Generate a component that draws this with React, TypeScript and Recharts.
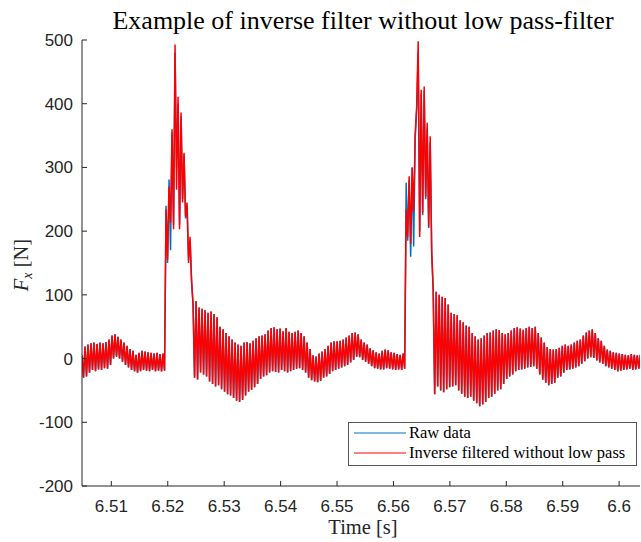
import { Line, LineChart, XAxis, YAxis } from "recharts";

// sampling grid of the force signal
const T0 = 6.5048;
const DT = 0.000266;

// Fx [N], inverse filtered (alternating crest / trough of the ringing)
const preImpact1 = [
  5, -30, 19, -28, 22, -22, 24, -18, 25, -20, 23, -17, 25, -18, 24, -15,
  26, -16, 30, -10, 36, 0, 38, 3, 34, 0, 30, -5, 25, -10, 20, -14,
  15, -18, 12, -20, 6, -22, 9, -20, 12, -18, 11, -19, 10, -20, 9, -18,
  8, -20, 9, -19, 7, -20, 8, -19,
];
const impact1 = [234, 155, 270, 213, 360, 203, 493, 265, 411, 203, 386, 245, 323, 223, 245, 150, 191, 124];
const ringing1 = [
  85, -30, 90, -33, 80, -22, 78, -25, 76, -28, 72, -36, 74, -40, 70, -44,
  65, -42, 50, -48, 46, -52, 40, -56, 35, -58, 30, -62, 25, -66, 22, -68,
  20, -65, 25, -58, 26, -52, 24, -49, 28, -45, 32, -40, 35, -32, 36, -28,
  38, -26, 44, -22, 48, -20, 49, -21, 46, -22, 47, -18, 43, -20, 48, -22,
  42, -20, 40, -18, 42, -16, 44, -15, 40, -18, 35, -22, 25, -30, 15, -34,
  5, -36, 3, -37, 8, -35, 11, -30, 15, -28, 20, -24, 25, -20, 27, -18,
  27, -16, 28, -14, 30, -12, 33, -10, 36, -6, 40, -2, 41, 3, 38, 2,
  30, -2, 25, -5, 22, -8, 16, -12, 13, -15, 10, -16, 8, -17, 12, -17,
  14, -15, 13, -16, 10, -17, 9, -18, 7, -17, 6, -18, 8, -16,
];
const impact2 = [234, 191, 286, 180, 300, 230, 352, 396, 498, 191, 422, 229, 427, 254, 370, 207, 349, 171];
const ringing2 = [
  108, -56, 105, -44, 100, -50, 97, -53, 95, -48, 85, -45, 72, -44, 70, -42,
  68, -50, 60, -55, 57, -60, 52, -62, 50, -60, 40, -66, 35, -70, 30, -75,
  32, -72, 36, -68, 40, -62, 41, -60, 44, -55, 46, -50, 45, -48, 40, -40,
  38, -32, 40, -28, 44, -25, 48, -20, 49, -18, 47, -17, 45, -16, 48, -14,
  50, -13, 48, -12, 50, -16, 40, -25, 33, -33, 25, -38, 18, -42, 15, -40,
  14, -38, 15, -30, 17, -28, 20, -22, 22, -18, 20, -17, 22, -16, 25, -14,
  28, -12, 30, -8, 36, -4, 41, 0, 44, 2, 46, 1, 40, -3, 32, -6,
  28, -8, 20, -12, 14, -14, 12, -16, 10, -18, 9, -20, 8, -19, 7, -18,
  6, -17, 5, -16, 7, -18, 6, -17, 5, -16, 6, -17,
];

// raw data where it differs visibly from the filtered signal
const rawImpact1 = [240, 150, 281, 170, 355, 210, 480, 300, 400, 210, 380, 250, 320, 220, 240, 155, 185, 120];
const rawImpact2 = [276, 185, 280, 160, 300, 176, 345, 390, 480, 200, 415, 225, 420, 250, 360, 205, 340, 165];

const xTicks = [6.51, 6.52, 6.53, 6.54, 6.55, 6.56, 6.57, 6.58, 6.59, 6.6];
const yTicks = [-200, -100, 0, 100, 200, 300, 400, 500];

const filtered = [...preImpact1, ...impact1, ...ringing1, ...impact2, ...ringing2];
const raw = [...preImpact1, ...rawImpact1, ...ringing1, ...rawImpact2, ...ringing2];
const data = filtered.map((v, i) => ({ t: T0 + i * DT, raw: raw[i], filt: v }));

const AX = "#262626";
const TICK_FONT = "'Liberation Sans', Arial, sans-serif";
const SERIF = "'Liberation Serif', 'Times New Roman', serif";

const BottomTick = (p: any) => (
  <g>
    <line x1={p.x} x2={p.x} y1={p.y} y2={p.y - 5} stroke={AX} />
    <text x={p.x} y={p.y + 26} textAnchor="middle" fontSize={17} fontFamily={TICK_FONT} fill={AX}>
      {String(Number(p.payload.value.toFixed(2)))}
    </text>
  </g>
);
const TopTick = (p: any) => <line x1={p.x} x2={p.x} y1={p.y} y2={p.y + 5} stroke={AX} />;
const LeftTick = (p: any) => (
  <g>
    <line x1={p.x} x2={p.x + 5} y1={p.y} y2={p.y} stroke={AX} />
    <text x={p.x - 9} y={p.y + 6} textAnchor="end" fontSize={17} fontFamily={TICK_FONT} fill={AX}>
      {p.payload.value}
    </text>
  </g>
);
const RightTick = (p: any) => <line x1={p.x} x2={p.x - 5} y1={p.y} y2={p.y} stroke={AX} />;

export default function App() {
  const domainX: [number, number] = [6.5048, 6.6037];
  const domainY: [number, number] = [-200, 500];
  return (
    <div style={{ position: "absolute", left: 0, top: 0, width: 641, height: 542, background: "#fff" }}>
      <LineChart width={641} height={542} data={data} margin={{ top: 40, right: 1, bottom: 0, left: 0 }}>
        <XAxis
          dataKey="t"
          type="number"
          domain={domainX}
          ticks={xTicks}
          allowDataOverflow
          height={56}
          tickSize={0}
          tickMargin={0}
          tick={BottomTick}
          axisLine={{ stroke: AX }}
          interval={0}
        />
        <XAxis
          xAxisId="top"
          orientation="top"
          dataKey="t"
          type="number"
          domain={domainX}
          ticks={xTicks}
          allowDataOverflow
          height={0}
          tickSize={0}
          tickMargin={0}
          tick={TopTick}
          axisLine={{ stroke: AX }}
          interval={0}
        />
        <YAxis
          type="number"
          domain={domainY}
          ticks={yTicks}
          allowDataOverflow
          width={82}
          tickSize={0}
          tickMargin={0}
          tick={LeftTick}
          axisLine={{ stroke: AX }}
          interval={0}
        />
        <YAxis
          yAxisId="right"
          orientation="right"
          type="number"
          domain={domainY}
          ticks={yTicks}
          allowDataOverflow
          width={0}
          tickSize={0}
          tickMargin={0}
          tick={RightTick}
          axisLine={{ stroke: AX }}
          interval={0}
        />
        <Line dataKey="raw" type="linear" stroke="#0072BD" strokeWidth={1.5} dot={false} isAnimationActive={false} />
        <Line dataKey="filt" type="linear" stroke="#FF0000" strokeWidth={1.5} dot={false} isAnimationActive={false} />
      </LineChart>
      <svg width={641} height={542} style={{ position: "absolute", left: 0, top: 0, pointerEvents: "none" }}>
        <text x={363} y={29} textAnchor="middle" fontSize={26} fontFamily={SERIF} fill="#000">
          Example of inverse filter without low pass-filter
        </text>
        <text x={363} y={534} textAnchor="middle" fontSize={20.5} fontFamily={SERIF} fill={AX}>
          Time [s]
        </text>
        <text transform="translate(28,265) rotate(-90)" textAnchor="middle" fontSize={20.5} fontFamily={SERIF} fill={AX}>
          <tspan fontStyle="italic">F</tspan>
          <tspan fontStyle="italic" fontSize={14} dy={4}>x</tspan>
          <tspan dy={-4}> [N]</tspan>
        </text>
        <rect x={348.5} y={422.5} width={288} height={43} fill="#fff" stroke="#555" />
        <line x1={354} x2={406} y1={433} y2={433} stroke="#0072BD" />
        <text x={409} y={438} fontSize={16.5} fontFamily={SERIF} fill="#000">Raw data</text>
        <line x1={354} x2={406} y1={453} y2={453} stroke="#FF0000" />
        <text x={409} y={458} fontSize={16.5} fontFamily={SERIF} fill="#000">Inverse filtered without low pass</text>
      </svg>
    </div>
  );
}
